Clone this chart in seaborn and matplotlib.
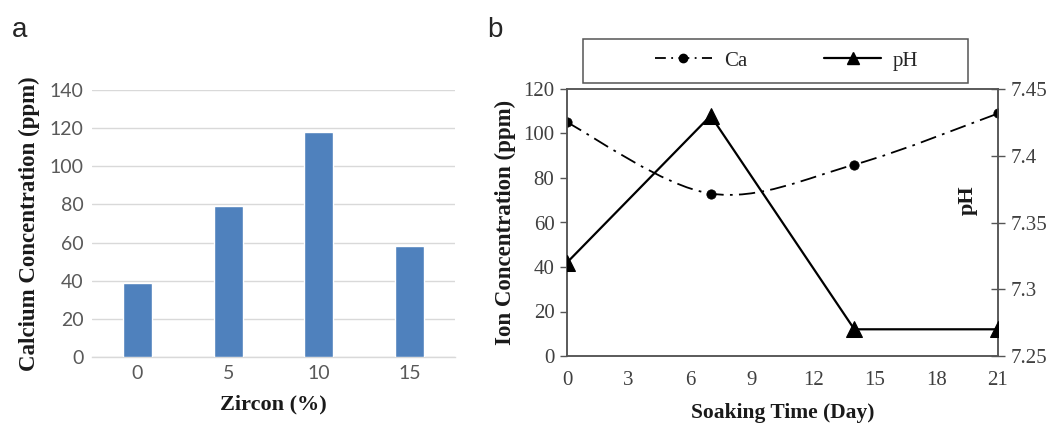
import matplotlib.pyplot as plt
import numpy as np
import pandas as pd
import seaborn as sns
from matplotlib.lines import Line2D
from matplotlib.patches import Rectangle, PathPatch
from matplotlib.path import Path

# panel a data
zircon = ["0", "5", "10", "15"]
calcium = [39, 79, 118, 58]

# panel b data
days = [0, 7, 14, 21]
ca_ppm = [105, 73, 86, 109]
ph_vals = [7.32, 7.43, 7.27, 7.27]

W, H = 1061, 423
SERIF = "Liberation Serif"


def px_box(left, top, right, bottom):
    return [left / W, 1 - bottom / H, (right - left) / W, (bottom - top) / H]


def smooth_path(xs, ys):
    """Excel-like smoothed line through the points as cubic Bezier segments."""
    pts = np.column_stack([xs, ys]).astype(float)
    verts = [pts[0]]
    codes = [Path.MOVETO]
    n = len(pts)
    for i in range(n - 1):
        p_prev = pts[max(i - 1, 0)]
        p0, p1 = pts[i], pts[i + 1]
        p_next = pts[min(i + 2, n - 1)]
        verts += [p0 + (p1 - p_prev) / 6, p1 - (p_next - p0) / 6, p1]
        codes += [Path.CURVE4] * 3
    return Path(verts, codes)


sns.set_theme(style="white")
fig = plt.figure(figsize=(W / 100, H / 100), dpi=100)

# ---------------- panel a ----------------
ax_a = fig.add_axes(px_box(92, 90, 455, 357))
df_a = pd.DataFrame({"zircon": zircon, "calcium": calcium})
sns.barplot(data=df_a, x="zircon", y="calcium", color="#4F81BD", saturation=1,
            width=0.32, ax=ax_a, zorder=3)
ax_a.set_ylim(0, 140)
ax_a.set_yticks(range(0, 141, 20))
ax_a.yaxis.grid(True, color="#d9d9d9", linewidth=1, zorder=0)
ax_a.set_axisbelow(True)
for s in ["top", "right", "left"]:
    ax_a.spines[s].set_visible(False)
ax_a.spines["bottom"].set_color("#d9d9d9")
ax_a.spines["bottom"].set_linewidth(1)
ax_a.tick_params(length=0, labelsize=14, labelcolor="#595959", pad=6)
for lab in ax_a.get_xticklabels() + ax_a.get_yticklabels():
    lab.set_family("Lato")
ax_a.set_xlabel("Zircon (%)", family=SERIF, fontweight="bold", fontsize=16,
                color="#1a1a1a", labelpad=9)
ax_a.set_ylabel("Calcium Concentration (ppm)", family=SERIF, fontweight="bold",
                fontsize=16.5, color="#1a1a1a", labelpad=7)
fig.text(12 / W, 1 - 30 / H, "a", family="Liberation Sans", fontsize=20,
         va="center", ha="left")

# ---------------- panel b ----------------
ax_b = fig.add_axes(px_box(567, 89, 998, 356))
ax_b.set_facecolor("white")
ax_b.set_xlim(0, 21)
ax_b.set_ylim(0, 120)
ax_b.set_xticks(range(0, 22, 3))
ax_b.set_yticks(range(0, 121, 20))

ca_curve = PathPatch(smooth_path(days, ca_ppm), facecolor="none", edgecolor="black",
                     linewidth=1.3, linestyle=(0, (9, 3.5, 1.5, 3.5)), zorder=3)
ax_b.add_patch(ca_curve)
sns.scatterplot(x=days, y=ca_ppm, ax=ax_b, color="black", s=45, marker="o",
                edgecolor="black", zorder=4, legend=False)

ax_ph = ax_b.twinx()
ax_ph.set_ylim(7.25, 7.45)
ax_ph.set_yticks([7.25, 7.3, 7.35, 7.4, 7.45])
ax_ph.set_yticklabels(["7.25", "7.3", "7.35", "7.4", "7.45"])
sns.lineplot(x=days, y=ph_vals, ax=ax_ph, color="black", linewidth=1.6,
             marker="^", markersize=11, markeredgecolor="black", zorder=4)
ax_ph.grid(False)

for ax in (ax_b, ax_ph):
    for s in ax.spines.values():
        s.set_color("#555555")
        s.set_linewidth(1.1)
ax_b.tick_params(axis="both", direction="out", length=5, width=1, color="#555555",
                 labelsize=15, labelcolor="#404040", pad=4)
ax_b.tick_params(axis="x", pad=6)
ax_ph.tick_params(axis="y", direction="inout", length=10, width=1, color="#555555",
                  labelsize=15, labelcolor="#404040", pad=4)
for lab in ax_b.get_xticklabels() + ax_b.get_yticklabels() + ax_ph.get_yticklabels():
    lab.set_family(SERIF)

ax_b.set_xlabel("Soaking Time (Day)", family=SERIF, fontweight="bold", fontsize=15.5,
                color="#1a1a1a", labelpad=9)
ax_b.set_ylabel("Ion Concentration (ppm)", family=SERIF, fontweight="bold",
                fontsize=16.5, color="#1a1a1a", labelpad=5)
ax_ph.set_ylabel("")
ax_ph.text(0.93, 0.585, "pH", transform=ax_ph.transAxes, rotation=90, family=SERIF,
           fontweight="bold", fontsize=16, ha="center", va="center", color="#1a1a1a")

# legend box above panel b
fig.patches.append(Rectangle((583 / W, 1 - 83 / H), 385 / W, 44 / H,
                             transform=fig.transFigure, facecolor="white",
                             edgecolor="#555555", linewidth=1.1))
handles = [
    Line2D([], [], color="black", linewidth=1.3, linestyle=(0, (6, 3, 1, 3)),
           marker="o", markersize=6),
    Line2D([], [], color="black", linewidth=1.6, marker="^", markersize=9),
]
fig.legend(handles, ["Ca", "pH"], loc="center", bbox_to_anchor=(787 / W, 1 - 61 / H),
           ncol=2, frameon=False, prop={"family": SERIF, "size": 15},
           handlelength=2.7, columnspacing=3.7, handletextpad=0.6)

fig.text(487 / W, 1 - 30 / H, "b", family="Liberation Sans", fontsize=20,
         va="center", ha="left")

fig.savefig("out.png", dpi=100)
